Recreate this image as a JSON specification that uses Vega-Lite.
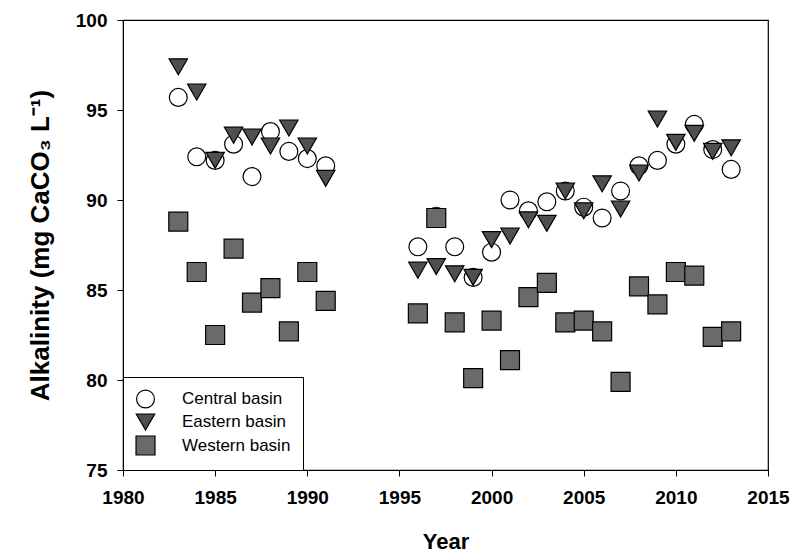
{
  "$schema": "https://vega.github.io/schema/vega-lite/v6.json",
  "width": 645,
  "height": 450,
  "autosize": "none",
  "padding": {"left": 123, "top": 20, "right": 32, "bottom": 89},
  "background": "white",
  "config": {
    "font": "Liberation Sans",
    "view": {"stroke": "black", "strokeWidth": 1.2},
    "axis": {"grid": false, "domainColor": "black", "tickColor": "black", "labelColor": "black", "titleColor": "black", "labelFont": "Liberation Sans", "titleFont": "Liberation Sans", "labelFontWeight": "bold", "titleFontWeight": "bold", "labelFontSize": 19, "titleFontSize": 22, "tickSize": 6}
  },
  "data": {"values": [
    {"Year": 1983, "Basin": "Central basin", "Alk": 95.7},
    {"Year": 1984, "Basin": "Central basin", "Alk": 92.4},
    {"Year": 1985, "Basin": "Central basin", "Alk": 92.2},
    {"Year": 1986, "Basin": "Central basin", "Alk": 93.1},
    {"Year": 1987, "Basin": "Central basin", "Alk": 91.3},
    {"Year": 1988, "Basin": "Central basin", "Alk": 93.8},
    {"Year": 1989, "Basin": "Central basin", "Alk": 92.7},
    {"Year": 1990, "Basin": "Central basin", "Alk": 92.3},
    {"Year": 1991, "Basin": "Central basin", "Alk": 91.9},
    {"Year": 1996, "Basin": "Central basin", "Alk": 87.4},
    {"Year": 1997, "Basin": "Central basin", "Alk": 89.1},
    {"Year": 1998, "Basin": "Central basin", "Alk": 87.4},
    {"Year": 1999, "Basin": "Central basin", "Alk": 85.7},
    {"Year": 2000, "Basin": "Central basin", "Alk": 87.1},
    {"Year": 2001, "Basin": "Central basin", "Alk": 90.0},
    {"Year": 2002, "Basin": "Central basin", "Alk": 89.4},
    {"Year": 2003, "Basin": "Central basin", "Alk": 89.9},
    {"Year": 2004, "Basin": "Central basin", "Alk": 90.5},
    {"Year": 2005, "Basin": "Central basin", "Alk": 89.6},
    {"Year": 2006, "Basin": "Central basin", "Alk": 89.0},
    {"Year": 2007, "Basin": "Central basin", "Alk": 90.5},
    {"Year": 2008, "Basin": "Central basin", "Alk": 91.9},
    {"Year": 2009, "Basin": "Central basin", "Alk": 92.2},
    {"Year": 2010, "Basin": "Central basin", "Alk": 93.1},
    {"Year": 2011, "Basin": "Central basin", "Alk": 94.2},
    {"Year": 2012, "Basin": "Central basin", "Alk": 92.8},
    {"Year": 2013, "Basin": "Central basin", "Alk": 91.7},
    {"Year": 1983, "Basin": "Eastern basin", "Alk": 97.4},
    {"Year": 1984, "Basin": "Eastern basin", "Alk": 96.0},
    {"Year": 1985, "Basin": "Eastern basin", "Alk": 92.2},
    {"Year": 1986, "Basin": "Eastern basin", "Alk": 93.6},
    {"Year": 1987, "Basin": "Eastern basin", "Alk": 93.5},
    {"Year": 1988, "Basin": "Eastern basin", "Alk": 93.0},
    {"Year": 1989, "Basin": "Eastern basin", "Alk": 94.0},
    {"Year": 1990, "Basin": "Eastern basin", "Alk": 93.0},
    {"Year": 1991, "Basin": "Eastern basin", "Alk": 91.2},
    {"Year": 1996, "Basin": "Eastern basin", "Alk": 86.1},
    {"Year": 1997, "Basin": "Eastern basin", "Alk": 86.3},
    {"Year": 1998, "Basin": "Eastern basin", "Alk": 85.9},
    {"Year": 1999, "Basin": "Eastern basin", "Alk": 85.7},
    {"Year": 2000, "Basin": "Eastern basin", "Alk": 87.8},
    {"Year": 2001, "Basin": "Eastern basin", "Alk": 88.0},
    {"Year": 2002, "Basin": "Eastern basin", "Alk": 88.9},
    {"Year": 2003, "Basin": "Eastern basin", "Alk": 88.7},
    {"Year": 2004, "Basin": "Eastern basin", "Alk": 90.5},
    {"Year": 2005, "Basin": "Eastern basin", "Alk": 89.4},
    {"Year": 2006, "Basin": "Eastern basin", "Alk": 90.9},
    {"Year": 2007, "Basin": "Eastern basin", "Alk": 89.5},
    {"Year": 2008, "Basin": "Eastern basin", "Alk": 91.5},
    {"Year": 2009, "Basin": "Eastern basin", "Alk": 94.5},
    {"Year": 2010, "Basin": "Eastern basin", "Alk": 93.2},
    {"Year": 2011, "Basin": "Eastern basin", "Alk": 93.7},
    {"Year": 2012, "Basin": "Eastern basin", "Alk": 92.7},
    {"Year": 2013, "Basin": "Eastern basin", "Alk": 92.9},
    {"Year": 1983, "Basin": "Western basin", "Alk": 88.8},
    {"Year": 1984, "Basin": "Western basin", "Alk": 86.0},
    {"Year": 1985, "Basin": "Western basin", "Alk": 82.5},
    {"Year": 1986, "Basin": "Western basin", "Alk": 87.3},
    {"Year": 1987, "Basin": "Western basin", "Alk": 84.3},
    {"Year": 1988, "Basin": "Western basin", "Alk": 85.1},
    {"Year": 1989, "Basin": "Western basin", "Alk": 82.7},
    {"Year": 1990, "Basin": "Western basin", "Alk": 86.0},
    {"Year": 1991, "Basin": "Western basin", "Alk": 84.4},
    {"Year": 1996, "Basin": "Western basin", "Alk": 83.7},
    {"Year": 1997, "Basin": "Western basin", "Alk": 89.0},
    {"Year": 1998, "Basin": "Western basin", "Alk": 83.2},
    {"Year": 1999, "Basin": "Western basin", "Alk": 80.1},
    {"Year": 2000, "Basin": "Western basin", "Alk": 83.3},
    {"Year": 2001, "Basin": "Western basin", "Alk": 81.1},
    {"Year": 2002, "Basin": "Western basin", "Alk": 84.6},
    {"Year": 2003, "Basin": "Western basin", "Alk": 85.4},
    {"Year": 2004, "Basin": "Western basin", "Alk": 83.2},
    {"Year": 2005, "Basin": "Western basin", "Alk": 83.3},
    {"Year": 2006, "Basin": "Western basin", "Alk": 82.7},
    {"Year": 2007, "Basin": "Western basin", "Alk": 79.9},
    {"Year": 2008, "Basin": "Western basin", "Alk": 85.2},
    {"Year": 2009, "Basin": "Western basin", "Alk": 84.2},
    {"Year": 2010, "Basin": "Western basin", "Alk": 86.0},
    {"Year": 2011, "Basin": "Western basin", "Alk": 85.8},
    {"Year": 2012, "Basin": "Western basin", "Alk": 82.4},
    {"Year": 2013, "Basin": "Western basin", "Alk": 82.7}
  ]},
  "mark": {"type": "point", "filled": true, "stroke": "black", "strokeWidth": 1.2, "opacity": 1},
  "encoding": {
    "x": {"field": "Year", "type": "quantitative", "scale": {"domain": [1980, 2015], "nice": false, "zero": false},
      "axis": {"title": "Year", "values": [1980, 1985, 1990, 1995, 2000, 2005, 2010, 2015], "format": "d", "labelPadding": 12, "titlePadding": 24, "labelFlush": false}},
    "y": {"field": "Alk", "type": "quantitative", "scale": {"domain": [75, 100], "nice": false, "zero": false},
      "axis": {"title": "Alkalinity (mg CaCO₃ L⁻¹)", "values": [75, 80, 85, 90, 95, 100], "labelPadding": 10, "titlePadding": 22, "labelFlush": false, "titleFontSize": 26}},
    "shape": {"field": "Basin", "type": "nominal", "scale": {"domain": ["Central basin", "Eastern basin", "Western basin"], "range": ["circle", "triangle-down", "square"]},
      "legend": {"title": null, "orient": "bottom-left", "offset": 0, "strokeColor": "black", "fillColor": "white", "padding": 12, "labelFontSize": 17, "labelFont": "Liberation Sans", "labelColor": "black", "rowPadding": 0, "symbolStrokeWidth": 1.2, "labelOffset": 26}},
    "size": {"field": "Basin", "type": "nominal", "scale": {"domain": ["Central basin", "Eastern basin", "Western basin"], "range": [320, 360, 250]}, "legend": {"title": null}},
    "fill": {"field": "Basin", "type": "nominal", "scale": {"domain": ["Central basin", "Eastern basin", "Western basin"], "range": ["white", "#4f4f4f", "#6a6a6a"]}, "legend": {"title": null}}
  }
}
